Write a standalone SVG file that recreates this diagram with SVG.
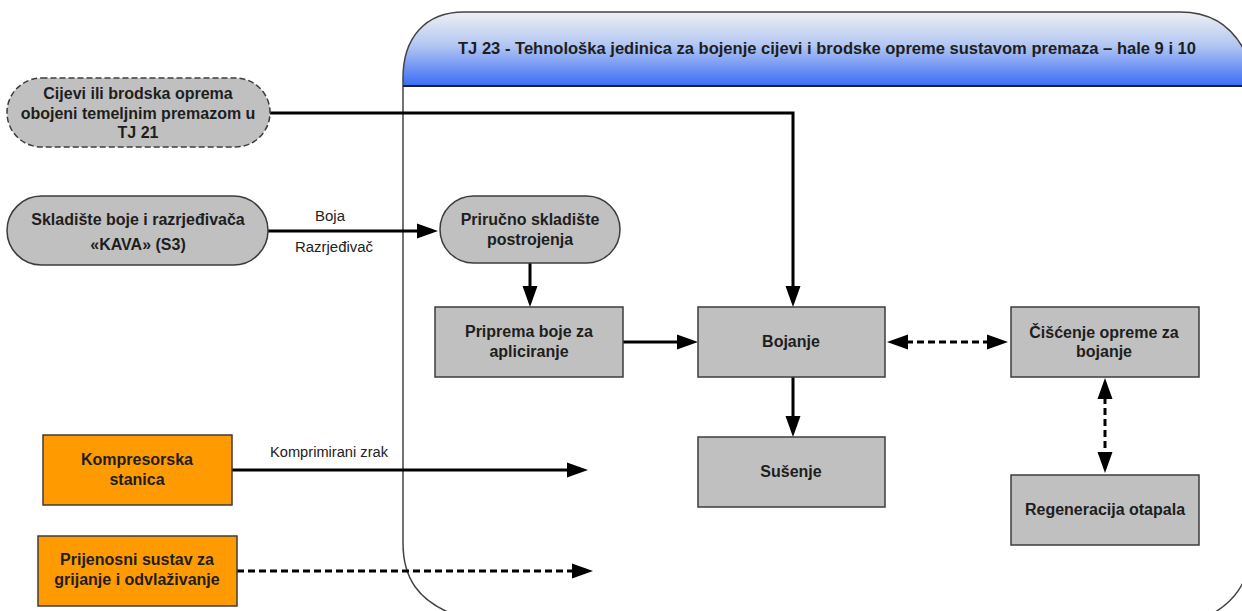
<svg xmlns="http://www.w3.org/2000/svg" width="1242" height="611" viewBox="0 0 1242 611">
  <defs>
    <linearGradient id="hdr" x1="0" y1="0" x2="0" y2="1">
      <stop offset="0" stop-color="#eef0f3"/>
      <stop offset="0.45" stop-color="#b3c6f2"/>
      <stop offset="1" stop-color="#3a6cf6"/>
    </linearGradient>
    <marker id="ah" markerUnits="userSpaceOnUse" markerWidth="22" markerHeight="16" refX="13" refY="8" orient="auto-start-reverse">
      <path d="M0,0.5 L21,8 L0,15.5 Z" fill="#000"/>
    </marker>
    <style>
      .node { fill: #c0c0c0; stroke: #3c3c3c; stroke-width: 1.5; }
      .orange { fill: #ff9a00; stroke: #3c3c3c; stroke-width: 1.5; }
      .t { font-family: "Liberation Sans", Arial, sans-serif; font-weight: bold; font-size: 16px; fill: #1e1e1e; text-anchor: middle; }
      .lbl { font-family: "Liberation Sans", Arial, sans-serif; font-size: 14px; fill: #222; text-anchor: middle; }
      .c { fill: none; stroke: #000; stroke-width: 3; }
      .d { fill: none; stroke: #000; stroke-width: 3; stroke-dasharray: 7 4; }
    </style>
  </defs>

  <rect width="1242" height="611" fill="#fff"/>

  <g id="container">
    <path d="M403,86 V78 C403,38 425,12 464,12 H1180 C1215,12 1240,30 1252,70 V86 Z" fill="url(#hdr)"/>
    <path d="M450,613 C420,600 403,580 403,543 V78 C403,38 425,12 464,12 H1180 C1215,12 1240,30 1252,70 V540 C1252,580 1235,605 1200,620" fill="none" stroke="#444" stroke-width="1.5"/>
    <line x1="403" y1="86" x2="1252" y2="86" stroke="#1c2230" stroke-width="2"/>
    <text x="827" y="54" class="t" font-size="16" textLength="738" lengthAdjust="spacingAndGlyphs">TJ 23 - Tehnološka jedinica za bojenje cijevi i brodske opreme sustavom premaza – hale 9 i 10</text>
  </g>

  <g id="connectors">
    <path class="c" d="M270,113 H793 V299" marker-end="url(#ah)"/>
    <path class="c" d="M268,231 H430" marker-end="url(#ah)"/>
    <path class="c" d="M530,263 V299" marker-end="url(#ah)"/>
    <path class="c" d="M623,342 H690" marker-end="url(#ah)"/>
    <path class="c" d="M793,377 V429" marker-end="url(#ah)"/>
    <path class="d" d="M895,342 H1000" marker-start="url(#ah)" marker-end="url(#ah)"/>
    <path class="d" d="M1105,386 V465" marker-start="url(#ah)" marker-end="url(#ah)"/>
    <path class="c" d="M232,470 H580" marker-end="url(#ah)"/>
    <path class="d" d="M237,571 H585" marker-end="url(#ah)"/>
    <text x="330" y="221" class="lbl" textLength="30" lengthAdjust="spacingAndGlyphs">Boja</text>
    <text x="334" y="252" class="lbl" textLength="78" lengthAdjust="spacingAndGlyphs">Razrjeđivač</text>
    <text x="329" y="457" class="lbl" textLength="118" lengthAdjust="spacingAndGlyphs">Komprimirani zrak</text>
  </g>

  <g id="n-cijevi">
    <rect x="7" y="78" width="263" height="69" rx="34.5" class="node" stroke-dasharray="6 3"/>
    <text x="138" y="99" class="t">Cijevi ili brodska oprema</text>
    <text x="138" y="119" class="t">obojeni temeljnim premazom u</text>
    <text x="138" y="138" class="t">TJ 21</text>
  </g>

  <g id="n-skladiste">
    <rect x="7" y="196" width="261" height="69" rx="34.5" class="node"/>
    <text x="138" y="225" class="t">Skladište boje i razrjeđivača</text>
    <text x="138" y="250" class="t">«KAVA» (S3)</text>
  </g>

  <g id="n-prirucno">
    <rect x="440" y="196" width="180" height="67" rx="33.5" class="node"/>
    <text x="530" y="225" class="t">Priručno skladište</text>
    <text x="530" y="245" class="t">postrojenja</text>
  </g>

  <g id="n-priprema">
    <rect x="435" y="307" width="188" height="70" class="node"/>
    <text x="529" y="337" class="t">Priprema boje za</text>
    <text x="529" y="357" class="t">apliciranje</text>
  </g>

  <g id="n-bojanje">
    <rect x="698" y="307" width="187" height="70" class="node"/>
    <text x="791" y="347" class="t">Bojanje</text>
  </g>

  <g id="n-susenje">
    <rect x="698" y="437" width="187" height="70" class="node"/>
    <text x="791" y="477" class="t">Sušenje</text>
  </g>

  <g id="n-ciscenje">
    <rect x="1011" y="307" width="188" height="70" class="node"/>
    <text x="1104" y="338" class="t">Čišćenje opreme za</text>
    <text x="1104" y="357" class="t">bojanje</text>
  </g>

  <g id="n-regeneracija">
    <rect x="1011" y="475" width="188" height="70" class="node"/>
    <text x="1105" y="515" class="t">Regeneracija otapala</text>
  </g>

  <g id="n-kompresorska">
    <rect x="43" y="435" width="189" height="70" class="orange"/>
    <text x="137" y="465" class="t">Kompresorska</text>
    <text x="137" y="485" class="t">stanica</text>
  </g>

  <g id="n-prijenosni">
    <rect x="38" y="536" width="199" height="70" class="orange"/>
    <text x="137" y="565" class="t">Prijenosni sustav za</text>
    <text x="137" y="585" class="t">grijanje i odvlaživanje</text>
  </g>
</svg>
